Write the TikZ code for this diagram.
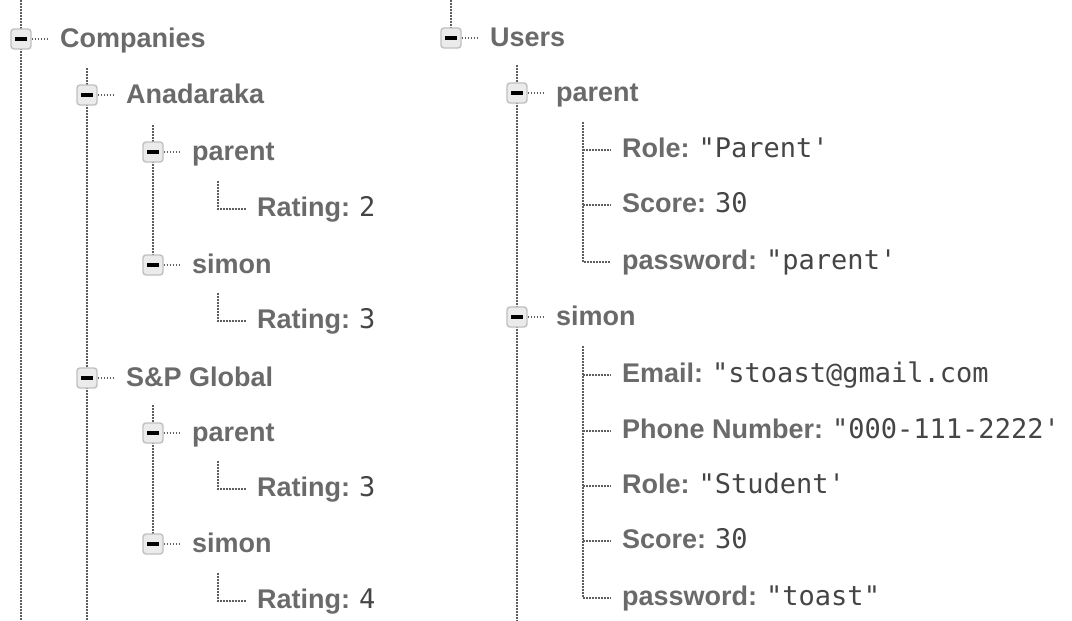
\documentclass[tikz,border=0pt]{standalone}
\usepackage{fontspec}
\setmainfont{Liberation Sans}
\setmonofont{DejaVu Sans Mono}
\definecolor{keygray}{HTML}{6A6A6A}
\definecolor{valgray}{HTML}{454545}
\definecolor{dotgray}{HTML}{5E5E5E}
\definecolor{boxfill}{HTML}{EBEBEB}
\definecolor{boxline}{HTML}{C0C0C0}
\newcommand{\minusbar}{\color{black}\rule{12pt}{4pt}}
\newcommand{\val}[1]{\hspace{9pt}{\mdseries\ttfamily\color{valgray}#1}}

\begin{document}
\begin{tikzpicture}[x=1pt, y=-1pt,
    dots/.style={draw=dotgray, line width=2pt, dash pattern=on 1.5pt off 1.5pt},
    tog/.style={draw=boxline, fill=boxfill, line width=1.4pt, rounded corners=3pt,
      minimum size=20pt, inner sep=0pt},
    key/.style={anchor=west, inner ysep=0pt, inner xsep=11pt, text height=20pt,
      text depth=5pt, text=keygray, font=\fontsize{27}{32}\selectfont\bfseries}]
      \useasboundingbox[fill=white] (0,0) rectangle (1072,621);

      \coordinate (ltop) at (21,0);
      \coordinate (lbot) at (21,621);
      \coordinate (atop) at (87,68);
      \coordinate (abot) at (87,621);
      \coordinate (p1top) at (153,125);
      \coordinate (p2top) at (153,405);
      \coordinate (r1top) at (218,181);
      \coordinate (r2top) at (218,293);
      \coordinate (r3top) at (218,461);
      \coordinate (r4top) at (218,573);

      \draw[dots] (ltop) -- (21,30) (21,48) -- (lbot);
      \draw[dots] (atop) -- (87,86) (87,104) -- (87,369) (87,387) -- (abot);
      \draw[dots] (p1top) -- (153,143) (153,161) -- (153,256);
      \draw[dots] (p2top) -- (153,424) (153,442) -- (153,535);

      \node[tog] (comp) at (21,39) {\minusbar};
      \node[key] (compl) at (49,40) {Companies};
      \node[tog] (ana) at (87,95) {\minusbar};
      \node[key] (anal) at (115,96) {Anadaraka};
      \node[tog] (anapar) at (153,152) {\minusbar};
      \node[key] (anaparl) at (181,153) {parent};
      \node[key] (anaparr) at (246,209) {Rating:\val{2}};
      \node[tog] (anasim) at (153,265) {\minusbar};
      \node[key] (anasiml) at (181,266) {simon};
      \node[key] (anasimr) at (246,321) {Rating:\val{3}};
      \node[tog] (sp) at (87,378) {\minusbar};
      \node[key] (spl) at (115,379) {S\&P Global};
      \node[tog] (sppar) at (153,433) {\minusbar};
      \node[key] (spparl) at (181,434) {parent};
      \node[key] (spparr) at (246,489) {Rating:\val{3}};
      \node[tog] (spsim) at (153,544) {\minusbar};
      \node[key] (spsiml) at (181,545) {simon};
      \node[key] (spsimr) at (246,601) {Rating:\val{4}};

      \foreach \b in {comp,ana,anapar,anasim,sp,sppar,spsim}
        \draw[dots] (\b.east) -- (\b.east -| \b l.west);
      \draw[dots] (r1top) |- (anaparr.west);
      \draw[dots] (r2top) |- (anasimr.west);
      \draw[dots] (r3top) |- (spparr.west);
      \draw[dots] (r4top) |- (spsimr.west);

      \coordinate (rtop) at (451,0);
      \coordinate (utop) at (517,65);
      \coordinate (ubot) at (517,621);
      \coordinate (f1top) at (583,122);
      \coordinate (f2top) at (583,346);

      \draw[dots] (rtop) -- (451,29);
      \draw[dots] (utop) -- (517,84) (517,102) -- (517,308) (517,326) -- (ubot);

      \node[tog] (users) at (451,38) {\minusbar};
      \node[key] (usersl) at (479,39) {Users};
      \node[tog] (upar) at (517,93) {\minusbar};
      \node[key] (uparl) at (545,94) {parent};
      \node[key] (prole) at (611,150) {Role:\val{"Parent'}};
      \node[key] (pscore) at (611,205) {Score:\val{30}};
      \node[key] (ppass) at (611,262) {password:\val{"parent'}};
      \node[tog] (usim) at (517,317) {\minusbar};
      \node[key] (usiml) at (545,318) {simon};
      \node[key] (semail) at (611,375) {Email:\val{"stoast@gmail.com}};
      \node[key] (sphone) at (611,431) {Phone Number:\val{"000-111-2222'}};
      \node[key] (srole) at (611,486) {Role:\val{"Student'}};
      \node[key] (sscore) at (611,541) {Score:\val{30}};
      \node[key] (spass) at (611,598) {password:\val{"toast"}};

      \foreach \b in {users,upar,usim}
        \draw[dots] (\b.east) -- (\b.east -| \b l.west);
      \draw[dots] (f1top) |- (ppass.west);
      \foreach \n in {prole,pscore}
        \draw[dots] (f1top |- \n.west) -- (\n.west);
      \draw[dots] (f2top) |- (spass.west);
      \foreach \n in {semail,sphone,srole,sscore}
        \draw[dots] (f2top |- \n.west) -- (\n.west);
    \end{tikzpicture}
\end{document}
